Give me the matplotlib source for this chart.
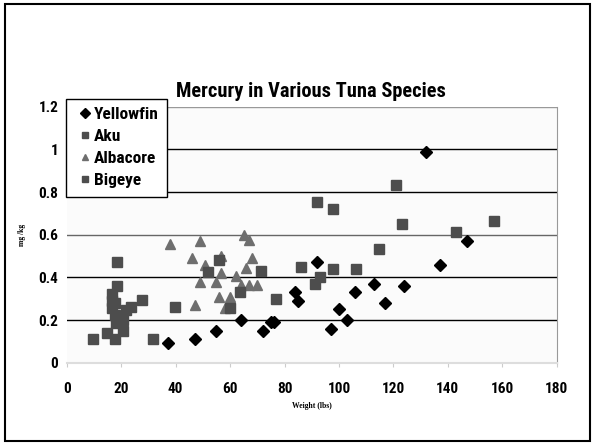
import matplotlib.pyplot as plt
from matplotlib.patches import Rectangle

# weight (lbs) and mercury (mg/kg)
yellowfin_w = [132, 147, 137, 124, 113, 117, 106, 103, 100, 97, 92, 84, 85, 76, 75, 72, 64, 55, 47, 37]
yellowfin_hg = [0.99, 0.57, 0.46, 0.36, 0.37, 0.28, 0.33, 0.20, 0.25, 0.16, 0.47, 0.33, 0.29, 0.19, 0.19, 0.15, 0.20, 0.15, 0.11, 0.09]

aku_w = [9.5, 14.7, 17.8, 18.6, 18.6, 16.6, 16.6, 17.8, 16.6, 17.8, 18.1, 19.3, 20.5, 20.5, 21.7, 23.7, 27.6, 31.8, 39.6]
aku_hg = [0.11, 0.14, 0.11, 0.47, 0.36, 0.32, 0.29, 0.28, 0.255, 0.225, 0.185, 0.20, 0.20, 0.15, 0.245, 0.26, 0.295, 0.11, 0.26]

albacore_w = [37.8, 48.9, 46.0, 50.9, 56.8, 56.8, 48.9, 54.8, 47.0, 56.0, 60.0, 58.0, 62.0, 64.0, 65.0, 67.0, 65.8, 67.9, 67.0, 69.9]
albacore_hg = [0.555, 0.57, 0.49, 0.46, 0.50, 0.42, 0.38, 0.38, 0.27, 0.31, 0.31, 0.255, 0.405, 0.365, 0.60, 0.575, 0.445, 0.49, 0.365, 0.365]

bigeye_w = [52.0, 55.8, 59.8, 63.6, 71.5, 76.9, 85.9, 91.1, 93.0, 91.8, 97.9, 97.9, 106.3, 114.8, 121.1, 123.0, 143.0, 157.0]
bigeye_hg = [0.425, 0.48, 0.255, 0.33, 0.43, 0.30, 0.45, 0.37, 0.40, 0.755, 0.72, 0.44, 0.44, 0.535, 0.835, 0.65, 0.615, 0.665]

yticks = [0, 0.2, 0.4, 0.6, 0.8, 1, 1.2]
ytick_labels = ['0', '0.2', '0.4', '0.6', '0.8', '1', '1.2']
xticks = [0, 20, 40, 60, 80, 100, 120, 140, 160, 180]

plt.rcParams['font.family'] = ['Roboto Condensed', 'DejaVu Sans']

fig = plt.figure(figsize=(5.95, 4.45), dpi=100)
fig.patch.set_facecolor('white')
fig.patches.append(Rectangle((0.009, 0.009), 0.982, 0.982, transform=fig.transFigure,
                             fill=False, edgecolor='black', linewidth=1.5))

ax = fig.add_axes([0.1123, 0.185, 0.8233, 0.575])
ax.set_facecolor('#fbfbfb')

for yv in [0.2, 0.4, 0.6, 0.8, 1.0]:
    c = '#666666' if yv == 0.6 else 'black'
    ax.axhline(yv, color=c, linewidth=1.0, zorder=1)
ax.axhline(1.2, color='#999999', linewidth=1.0, zorder=1)

ax.plot(yellowfin_w, yellowfin_hg, linestyle='none', marker='D', markersize=6,
        color='black', label='Yellowfin', zorder=3)
ax.plot(aku_w, aku_hg, linestyle='none', marker='s', markersize=6.5,
        color='#4d4d4d', label='Aku', zorder=3)
ax.plot(albacore_w, albacore_hg, linestyle='none', marker='^', markersize=7,
        color='#6e6e6e', label='Albacore', zorder=3)
ax.plot(bigeye_w, bigeye_hg, linestyle='none', marker='s', markersize=6.5,
        color='#4d4d4d', label='Bigeye', zorder=3)

ax.set_xlim(0, 180)
ax.set_ylim(0, 1.2)
ax.set_xticks(xticks)
ax.set_yticks(yticks)
ax.set_yticklabels(ytick_labels)
ax.tick_params(axis='x', length=3, color='#cccccc', labelsize=11, pad=11)
ax.tick_params(axis='y', length=0, labelsize=11, pad=6)
for lbl in ax.get_xticklabels() + ax.get_yticklabels():
    lbl.set_fontweight('bold')

ax.spines['left'].set_visible(False)
ax.spines['top'].set_visible(False)
ax.spines['right'].set_color('#999999')
ax.spines['bottom'].set_color('#dddddd')
ax.spines['bottom'].set_linewidth(1.5)

ax.set_xlabel('Weight (lbs)', fontsize=5.5, fontweight='bold', family='Liberation Serif', labelpad=4)
ax.set_ylabel('mg /kg', fontsize=5.5, fontweight='bold', family='Liberation Serif', labelpad=9)

fig.text(0.522, 0.795, 'Mercury in Various Tuna Species', ha='center', va='center',
         fontsize=14.7, fontweight='bold')

# legend box drawn by hand so it can be taller at the bottom like the original
box = Rectangle((0.111, 0.557), 0.170, 0.220, transform=fig.transFigure, facecolor='white',
                edgecolor='black', linewidth=1.0, zorder=4, clip_on=False)
ax.add_patch(box)

leg = ax.legend(loc='upper left', bbox_to_anchor=(0.018, 1.022), frameon=False,
                prop={'weight': 'bold', 'size': 12.5}, handlelength=0.4, handletextpad=0.28,
                borderpad=0.35, labelspacing=0.38, borderaxespad=0)
leg.set_zorder(5)
for h in leg.legend_handles:
    h.set_markersize(5)

fig.savefig('out.png', dpi=100)
